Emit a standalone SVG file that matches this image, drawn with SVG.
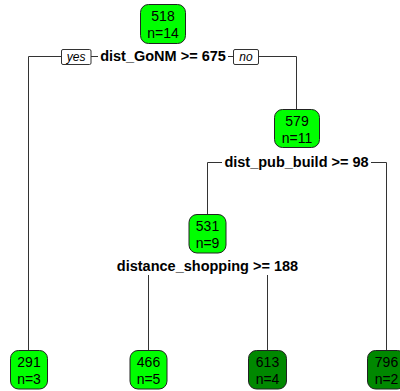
<svg xmlns="http://www.w3.org/2000/svg" width="400" height="391" viewBox="0 0 400 391">
<style>
.node rect{stroke:#222;stroke-width:1}
.lt{fill:#00FF00}
.dk{fill:#008800}
.nt{font-family:"Liberation Sans",Arial,sans-serif;font-size:14px;fill:#000;text-anchor:middle}
.sl{font-family:"Liberation Sans",Arial,sans-serif;font-size:14.5px;font-weight:bold;fill:#000;text-anchor:middle}
.yn{font-family:"Liberation Sans",Arial,sans-serif;font-size:12px;font-style:italic;fill:#000;text-anchor:middle}
.bg{fill:#fff}
.ynb{fill:#fff;stroke:#333;stroke-width:1}
.edge{fill:none;stroke:#333;stroke-width:1}
</style>
<rect width="400" height="391" fill="#fff"/>
<g id="connectors">
<path class="edge" d="M163 56.5 H28.5 V350.5"/>
<path class="edge" d="M163 56.5 H296.5 V109.5"/>
<path class="edge" d="M297 162.5 H207.5 V214.5"/>
<path class="edge" d="M297 162.5 H386.5 V350.5"/>
<path class="edge" d="M207.5 266 H148.5 V350.5"/>
<path class="edge" d="M207.5 266 H267.5 V350.5"/>
</g>
<g id="split1">
<rect class="bg" x="98" y="49" width="130" height="15"/>
<text class="sl" x="163" y="61">dist_GoNM &gt;= 675</text>
<rect class="ynb" x="61.5" y="49.5" width="29.5" height="15" rx="1.5"/>
<text class="yn" x="76.2" y="61">yes</text>
<rect class="ynb" x="233.5" y="49.5" width="25" height="15" rx="1.5"/>
<text class="yn" x="246" y="61">no</text>
</g>
<g id="split2">
<rect class="bg" x="222" y="154" width="149" height="16"/>
<text class="sl" x="296.5" y="167">dist_pub_build &gt;= 98</text>
</g>
<g id="split3">
<rect class="bg" x="113" y="257" width="189" height="18"/>
<text class="sl" x="207.5" y="270.5">distance_shopping &gt;= 188</text>
</g>
<g id="n1" class="node">
<rect class="lt" x="140.5" y="4.5" width="45" height="39" rx="8"/>
<text class="nt" x="163" y="21">518</text>
<text class="nt" x="163" y="38">n=14</text>
</g>
<g id="n3" class="node">
<rect class="lt" x="274.5" y="109.5" width="45" height="38" rx="8"/>
<text class="nt" x="297" y="126">579</text>
<text class="nt" x="297" y="142.5">n=11</text>
</g>
<g id="n6" class="node">
<rect class="lt" x="189" y="214.5" width="37" height="38.5" rx="8"/>
<text class="nt" x="207.5" y="231">531</text>
<text class="nt" x="207.5" y="247.5">n=9</text>
</g>
<g id="n2" class="node">
<rect class="lt" x="10.5" y="350.5" width="37" height="38.5" rx="8"/>
<text class="nt" x="29" y="367">291</text>
<text class="nt" x="29" y="383.5">n=3</text>
</g>
<g id="n12" class="node">
<rect class="lt" x="130" y="350.5" width="37" height="38.5" rx="8"/>
<text class="nt" x="148.5" y="367">466</text>
<text class="nt" x="148.5" y="383.5">n=5</text>
</g>
<g id="n13" class="node">
<rect class="dk" x="248.5" y="350.5" width="38" height="38.5" rx="8"/>
<text class="nt" x="267.5" y="367">613</text>
<text class="nt" x="267.5" y="383.5">n=4</text>
</g>
<g id="n7" class="node">
<rect class="dk" x="367.5" y="350.5" width="38" height="38.5" rx="8"/>
<text class="nt" x="386.5" y="367">796</text>
<text class="nt" x="386.5" y="383.5">n=2</text>
</g>
</svg>
